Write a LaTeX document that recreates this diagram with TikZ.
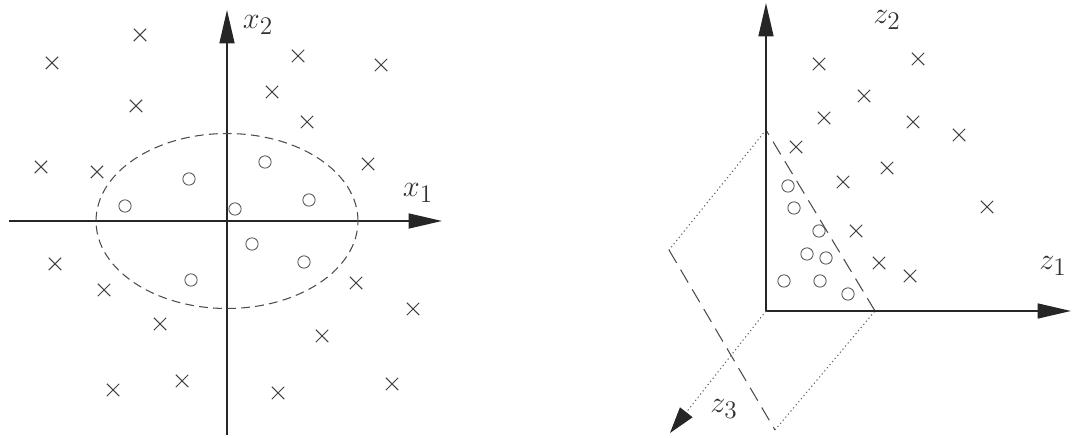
\documentclass[tikz,border=0pt]{standalone}
\usetikzlibrary{arrows.meta,shapes.misc}
\begin{document}
\begin{tikzpicture}[x=0.02cm, y=-0.02cm,
  axis/.style={black!85, line width=1pt, -{Triangle[length=19pt,width=8.5pt]}},
  xmark/.style={cross out, draw=black!75, line width=0.6pt, minimum size=6.5pt, inner sep=0pt},
  omark/.style={circle, draw=black!65, line width=0.5pt, minimum size=7pt, inner sep=0pt},
  lbl/.style={font=\fontsize{19}{22}\selectfont, text=black!80},
  longdash/.style={black!70, line width=0.6pt, dash pattern=on 8.5pt off 4.5pt},
  dots/.style={black!60, line width=0.6pt, dash pattern=on 0.7pt off 1.6pt}]
  \useasboundingbox (0,0) rectangle (1076,438);

  % input space
  \coordinate (O1) at (227,221);
  \coordinate (x1s) at (9,221);
  \coordinate (x1e) at (442,221);
  \coordinate (x2s) at (227,435);
  \coordinate (x2e) at (227,10);
  \draw[axis] (x1s) -- (x1e);
  \draw[axis] (x2s) -- (x2e);
  \node[lbl] (x1) at (418,193) {$x_1$};
  \node[lbl] (x2) at (258,25) {$x_2$};
  \draw[black!70, line width=0.6pt, dash pattern=on 5pt off 3pt]
    (O1) ellipse [x radius=2.62cm, y radius=1.75cm];

  \foreach \p [count=\i] in {(140,35),(52,63),(298,56),(381,65),(272,92),
      (136,106),(307,122),(41,167),(97,172),(368,164),(55,264),(104,290),
      (356,283),(413,309),(160,324),(322,336),(182,381),(113,390),(278,393),(392,384)}
    \node[xmark] (a\i) at \p {};
  \foreach \p [count=\i] in {(265,162),(189,179),(125,206),(309,200),
      (235,209),(252,244),(304,262),(191,280)}
    \node[omark] (b\i) at \p {};

  % feature space
  \coordinate (O2) at (766,311);
  \coordinate (z1e) at (1071,311);
  \coordinate (z2e) at (766,3);
  \coordinate (z3e) at (670,433);
  \coordinate (pT) at (766,130);
  \coordinate (pL) at (669,250);
  \coordinate (pB) at (775,430);
  \coordinate (pR) at (875,311);
  \draw[dots] (pT) -- (pL);
  \draw[dots] (pB) -- (pR);
  \draw[longdash] (pL) -- (pB);
  \draw[longdash] (pR) -- (pT);
  \draw[axis] (O2) -- (z1e);
  \draw[axis] (O2) -- (z2e);
  \draw[dots, -{Triangle[length=15pt,width=9pt,color=black!85]}] (O2) -- (z3e);
  \node[lbl] (z1) at (1053,266) {$z_1$};
  \node[lbl] (z2) at (887,20) {$z_2$};
  \node[lbl] (z3) at (724,409) {$z_3$};

  \foreach \p [count=\i] in {(819,64),(918,59),(864,96),(824,118),(913,122),
      (959,135),(796,147),(887,168),(843,182),(987,207),(856,231),(879,263),(910,276)}
    \node[xmark] (c\i) at \p {};
  \foreach \p [count=\i] in {(788,186),(794,208),(819,231),(807,254),
      (826,258),(784,281),(820,281),(848,294)}
    \node[omark] (d\i) at \p {};
\end{tikzpicture}
\end{document}
